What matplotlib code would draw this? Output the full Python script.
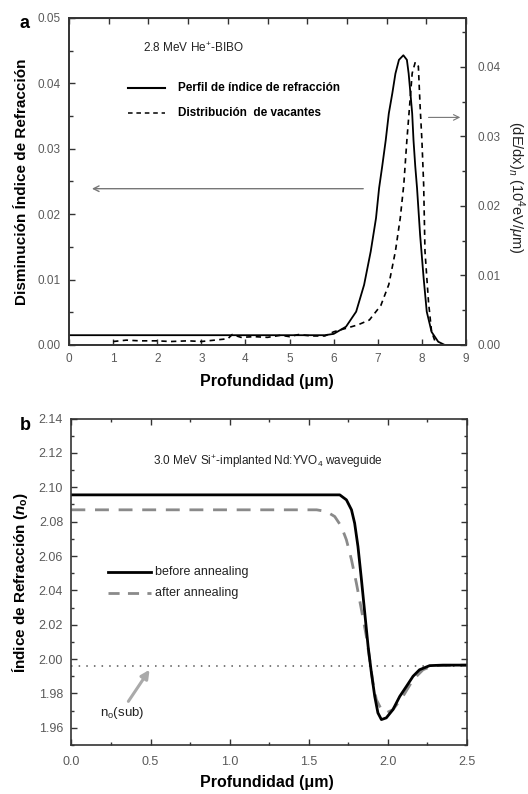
import matplotlib
matplotlib.use("Agg")
import matplotlib.pyplot as plt
import numpy as np
from matplotlib.ticker import MultipleLocator, FixedLocator, FormatStrFormatter

plt.rcParams['font.family'] = ['Liberation Sans', 'DejaVu Sans']
plt.rcParams['mathtext.fontset'] = 'custom'
plt.rcParams['mathtext.rm'] = 'Liberation Sans'
plt.rcParams['mathtext.it'] = 'Liberation Sans:italic'
plt.rcParams['mathtext.bf'] = 'Liberation Sans:bold'
plt.rcParams['mathtext.bfit'] = 'Liberation Sans:bold:italic'

# ---------------- Panel a data ----------------
# Refractive index decrease profile (left axis)
a_profile_x = [0.0, 5.8, 6.0, 6.28, 6.51, 6.69, 6.84, 6.96, 7.03, 7.10, 7.18, 7.25,
               7.33, 7.40, 7.48, 7.58, 7.66, 7.70, 7.74, 7.78, 7.81, 7.85, 7.89, 7.96,
               8.04, 8.11, 8.22, 8.37, 8.52, 9.0]
a_profile_y = [0.0015, 0.0015, 0.0017, 0.0028, 0.0051, 0.0092, 0.0143, 0.0194, 0.0240,
               0.0273, 0.0313, 0.0354, 0.0385, 0.0415, 0.0436, 0.0443, 0.0436, 0.0415,
               0.0385, 0.0354, 0.0313, 0.0273, 0.0240, 0.0168, 0.0102, 0.0051, 0.0020,
               0.0005, 0.0, 0.0]
# Vacancy distribution (right axis, dE/dx)
a_vac_x = [1.0, 1.3, 1.6, 2.0, 2.3, 2.7, 3.0, 3.3, 3.6, 3.7, 3.9, 4.2, 4.5, 4.8, 5.0,
           5.2, 5.5, 5.8, 6.0, 6.28, 6.55, 6.81, 7.07, 7.25, 7.40, 7.51, 7.59, 7.66,
           7.72, 7.78, 7.85, 7.92, 7.96, 8.00, 8.04, 8.07, 8.15, 8.22, 8.30, 8.34]
a_vac_y = [0.0005, 0.0007, 0.0006, 0.0006, 0.0005, 0.0006, 0.0005, 0.0007, 0.0009,
           0.0015, 0.0011, 0.0012, 0.0011, 0.0014, 0.0012, 0.0015, 0.0013, 0.0013,
           0.0019, 0.0024, 0.0029, 0.0036, 0.0057, 0.0087, 0.0135, 0.0183, 0.0231,
           0.0295, 0.0343, 0.0391, 0.0407, 0.0401, 0.0343, 0.0295, 0.0231, 0.0135,
           0.0062, 0.0019, 0.0005, 0.0]
a_xticks = [0, 1, 2, 3, 4, 5, 6, 7, 8, 9]
a_left_ticks = [0.00, 0.01, 0.02, 0.03, 0.04, 0.05]
a_right_ticks = [0.00, 0.01, 0.02, 0.03, 0.04]
a_labels = ["Perfil de índice de refracción", "Distribución  de vacantes"]

# ---------------- Panel b data ----------------
b_before_x = [0.0, 1.60, 1.696, 1.738, 1.770, 1.790, 1.811, 1.833, 1.854, 1.875, 1.896,
              1.917, 1.937, 1.959, 1.99, 2.032, 2.075, 2.117, 2.159, 2.20, 2.264, 2.348,
              2.5]
b_before_y = [2.0956, 2.0956, 2.0956, 2.0927, 2.0869, 2.0791, 2.0655, 2.0462, 2.0268,
              2.0074, 1.9919, 1.9783, 1.9687, 1.9648, 1.9658, 1.9706, 1.9783, 1.9841,
              1.9900, 1.9938, 1.9962, 1.9965, 1.9965]
b_after_x = [0.0, 1.55, 1.612, 1.664, 1.706, 1.738, 1.770, 1.801, 1.833, 1.864, 1.885,
             1.906, 1.927, 1.959, 1.99, 2.032, 2.095, 2.159, 2.222, 2.285, 2.5]
b_after_y = [2.0869, 2.0869, 2.0859, 2.0830, 2.0772, 2.0694, 2.0578, 2.0442, 2.0287,
             2.0132, 1.9997, 1.9861, 1.9764, 1.9706, 1.9687, 1.9706, 1.9783, 1.9880,
             1.9938, 1.9962, 1.9965]
b_sub_index = 1.996
b_labels = ["before annealing", "after annealing"]

W, H = 528, 794
fig = plt.figure(figsize=(W / 100, H / 100), dpi=100)

def rect(l, t, r, b):
    return [l / W, 1 - b / H, (r - l) / W, (b - t) / H]

narrow = ['Liberation Sans Narrow', 'Liberation Sans']
tcol = '#5a5a5a'
scol = '#333333'

# ================= Panel a =================
ax = fig.add_axes(rect(69, 18, 466, 345))
ax.plot(a_profile_x, a_profile_y, color='black', lw=1.3)
ax.set_xlim(0, 9)
ax.set_ylim(0, 0.05)
ax.yaxis.set_major_locator(FixedLocator(a_left_ticks))
ax.yaxis.set_minor_locator(MultipleLocator(0.005))
ax.set_yticklabels([f"{v:.2f}" for v in a_left_ticks])
ax.xaxis.set_major_locator(FixedLocator(a_xticks))
ax.set_xticklabels([str(v) for v in a_xticks])
ax.tick_params(which='both', direction='in', color=scol, labelcolor=tcol)
ax.tick_params(axis='y', which='both', right=False)
ax.tick_params(axis='x', which='both', top=False)
ax.tick_params(which='major', length=4, width=1)
ax.tick_params(which='minor', length=3, width=1)
ax.tick_params(axis='y', pad=6)
ax.tick_params(axis='x', pad=6)
for lab in ax.get_xticklabels() + ax.get_yticklabels():
    lab.set_fontfamily(narrow); lab.set_fontsize(8.5)
for s in ax.spines.values():
    s.set_color(scol); s.set_linewidth(1.2)

axt = ax.secondary_xaxis('top')
axt.set_xticks(np.linspace(0, 9, 11))
axt.tick_params(direction='in', length=4, width=1, color=scol, labeltop=False)
axt.spines['top'].set_color(scol)

ax2 = ax.twinx()
ax2.plot(a_vac_x, a_vac_y, color='black', lw=1.2, linestyle=(0, (3.2, 2.6)))
ax2.set_ylim(0, 0.04705)
ax2.yaxis.set_major_locator(FixedLocator(a_right_ticks))
ax2.yaxis.set_minor_locator(MultipleLocator(0.005))
ax2.set_yticklabels([f"{v:.2f}" for v in a_right_ticks])
ax2.tick_params(which='both', direction='in', color=scol, labelcolor=tcol, pad=8)
ax2.tick_params(which='major', length=4, width=1)
ax2.tick_params(which='minor', length=3, width=1)
for lab in ax2.get_yticklabels():
    lab.set_fontfamily(narrow); lab.set_fontsize(8.5)
for s in ax2.spines.values():
    s.set_color(scol); s.set_linewidth(1.2)

# legend (manual)
ax.plot([1.34, 2.18], [0.0393, 0.0393], color='black', lw=1.5)
ax.plot([1.34, 2.18], [0.0355, 0.0355], color='black', lw=1.1, linestyle=(0, (3, 2.5)))
ax.text(2.47, 0.0393, a_labels[0], fontsize=8.5, fontweight='bold', va='center', ha='left')
ax.text(2.47, 0.0355, a_labels[1], fontsize=8.5, fontweight='bold', va='center', ha='left')
ax.text(1.68, 0.0454, "2.8 MeV He$^{+}$-BIBO", fontsize=8.5, va='center', ha='left',
        color='#222222')
ax.annotate("", xy=(0.52, 0.0239), xytext=(6.67, 0.0239),
            arrowprops=dict(arrowstyle='->', color='#777777', lw=1.0, shrinkA=0, shrinkB=0))
ax.annotate("", xy=(8.87, 0.0348), xytext=(8.15, 0.0348),
            arrowprops=dict(arrowstyle='->', color='#777777', lw=0.8, shrinkA=0, shrinkB=0))

fig.text(25 / W, 1 - 23 / H, "a", fontsize=13, fontweight='bold', ha='center', va='center')
fig.text(22 / W, 1 - 182 / H, "Disminución Índice de Refracción", rotation=90,
         fontsize=11, fontweight='bold', ha='center', va='center')
fig.text(516 / W, 1 - 187 / H, r"(dE/dx)$_{n}$ (10$^{4}$eV/$\mu$m)", rotation=270,
         fontsize=10.5, ha='center', va='center', color='#222222')
fig.text(267 / W, 1 - 382 / H, "Profundidad (μm)", fontsize=11.5, fontweight='bold',
         ha='center', va='center')

# ================= Panel b =================
bx = fig.add_axes(rect(71.4, 418.6, 467, 745))
bx.axhline(b_sub_index, color='#555555', lw=1.1, linestyle=(0, (1, 4)))
bx.plot(b_after_x, b_after_y, color='#8a8a8a', lw=2.0, linestyle=(0, (5, 3.5)))
bx.plot(b_before_x, b_before_y, color='black', lw=2.0)
bx.set_xlim(0, 2.5)
bx.set_ylim(1.95, 2.14)
bx.xaxis.set_major_locator(MultipleLocator(0.5))
bx.xaxis.set_minor_locator(MultipleLocator(0.25))
bx.yaxis.set_major_locator(MultipleLocator(0.02))
bx.yaxis.set_minor_locator(MultipleLocator(0.01))
bx.xaxis.set_major_formatter(FormatStrFormatter('%.1f'))
bx.yaxis.set_major_formatter(FormatStrFormatter('%.2f'))
bx.tick_params(which='both', direction='in', top=True, right=True, color=scol,
               labelcolor=tcol)
bx.tick_params(which='major', length=4, width=1)
bx.tick_params(which='minor', length=2.5, width=1)
bx.tick_params(axis='y', pad=6)
bx.tick_params(axis='x', pad=8)
for lab in bx.get_xticklabels() + bx.get_yticklabels():
    lab.set_fontfamily(narrow); lab.set_fontsize(9)
for s in bx.spines.values():
    s.set_color(scol); s.set_linewidth(1.2)

bx.plot([0.23, 0.50], [2.0508, 2.0508], color='black', lw=2.0)
bx.plot([0.23, 0.50], [2.0386, 2.0386], color='#8a8a8a', lw=2.0, linestyle=(0, (4, 3)))
bx.text(0.527, 2.0508, b_labels[0], fontsize=9, va='center', ha='left', color='#222222')
bx.text(0.527, 2.0386, b_labels[1], fontsize=9, va='center', ha='left', color='#222222')
bx.text(1.24, 2.115, "3.0 MeV Si$^{+}$-implanted Nd:YVO$_{4}$ waveguide", fontsize=8.5,
        va='center', ha='center', color='#222222', family=narrow)
bx.annotate("", xy=(0.494, 1.9938), xytext=(0.36, 1.9754),
            arrowprops=dict(arrowstyle='-|>,head_length=0.5,head_width=0.25',
                            color='#aaaaaa', lw=2.2, shrinkA=0, shrinkB=0))
bx.text(0.18, 1.9684, "n$_{\\mathrm{o}}$(sub)", fontsize=9.5, va='center', ha='left',
        color='#222222')

fig.text(25 / W, 1 - 425 / H, "b", fontsize=13, fontweight='bold', ha='center', va='center')
fig.text(20 / W, 1 - 582 / H, r"Índice de Refracción ($\mathbfit{n}_{\mathbf{o}}$)",
         rotation=90, fontsize=11, fontweight='bold', ha='center', va='center')
fig.text(267 / W, 1 - 782 / H, "Profundidad (μm)", fontsize=11.5, fontweight='bold',
         ha='center', va='center')

fig.savefig("out.png", dpi=100)
